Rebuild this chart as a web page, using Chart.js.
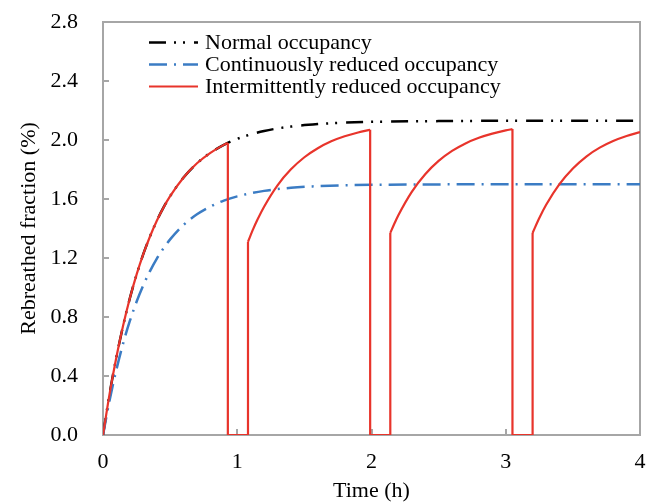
<!DOCTYPE html>
<html><head><meta charset="utf-8">
<script src="https://cdn.jsdelivr.net/npm/chart.js@4.4.1/dist/chart.umd.min.js"></script>
<style>html,body{margin:0;padding:0;background:#fff}canvas{display:block}</style>
</head><body>
<canvas id="c" width="648" height="504"></canvas>
<script>
// ---- data ----
const xTicks = [0, 1, 2, 3, 4];
const yTicks = [0.0, 0.4, 0.8, 1.2, 1.6, 2.0, 2.4, 2.8];
const seriesNames = ['Normal occupancy', 'Continuously reduced occupancy', 'Intermittently reduced occupancy'];

const timeH    = [0, 0.05, 0.1, 0.15, 0.2, 0.25, 0.3, 0.35, 0.4, 0.45, 0.5, 0.6, 0.7, 0.8, 0.9, 1.0, 1.2, 1.4, 1.6, 1.8, 2.0, 2.5, 3.0, 3.5, 4.0];
const normalY  = [0, 0.284, 0.529, 0.742, 0.927, 1.087, 1.226, 1.346, 1.451, 1.541, 1.619, 1.746, 1.842, 1.913, 1.967, 2.008, 2.061, 2.091, 2.108, 2.118, 2.123, 2.128, 2.13, 2.13, 2.13];
const reducedY = [0, 0.239, 0.444, 0.621, 0.773, 0.903, 1.015, 1.111, 1.194, 1.265, 1.326, 1.424, 1.496, 1.549, 1.589, 1.618, 1.655, 1.676, 1.687, 1.693, 1.696, 1.699, 1.70, 1.70, 1.70];

// intermittent occupancy: occupied periods (the gaps between them read as 0)
const redT1 = [0, 0.05, 0.1, 0.15, 0.2, 0.25, 0.3, 0.35, 0.4, 0.45, 0.5, 0.6, 0.7, 0.8, 0.9, 0.93];
const redY1 = [0, 0.284, 0.529, 0.742, 0.927, 1.087, 1.226, 1.346, 1.451, 1.541, 1.619, 1.746, 1.842, 1.913, 1.967, 1.980];
const redT2 = [1.08, 1.12, 1.15, 1.2, 1.3, 1.4, 1.5, 1.6, 1.7, 1.8, 1.9, 1.99];
const redY2 = [1.31, 1.399, 1.459, 1.548, 1.693, 1.801, 1.883, 1.944, 1.991, 2.025, 2.051, 2.069];
const redT3 = [2.14, 2.17, 2.2, 2.3, 2.4, 2.5, 2.6, 2.7, 2.8, 2.9, 3.0, 3.05];
const redY3 = [1.37, 1.432, 1.49, 1.649, 1.768, 1.858, 1.926, 1.977, 2.015, 2.043, 2.065, 2.074];
const redT4 = [3.2, 3.25, 3.3, 3.4, 3.5, 3.6, 3.7, 3.8, 3.9, 4.0];
const redY4 = [1.37, 1.471, 1.559, 1.701, 1.807, 1.888, 1.948, 1.993, 2.027, 2.053];

// ---- styling ----
const FONT = '"Liberation Serif","Times New Roman",serif';
const AXIS = '#a6a6a6';
const RED = '#e8342b', BLUE = '#3b7cc4', BLACK = '#000000';
const DASH_BLACK = [17, 8, 2, 7, 2, 9];
const DASH_BLUE = [18, 7, 2, 7];

function pts(t, y) { return t.map((v, i) => ({ x: v, y: y[i] })); }
const cyclesT = [redT1, redT2, redT3, redT4];
const cyclesY = [redY1, redY2, redY3, redY4];
const connectors = [];
for (let k = 0; k < cyclesT.length - 1; k++) {
  const tE = cyclesT[k][cyclesT[k].length - 1], yE = cyclesY[k][cyclesY[k].length - 1];
  const tS = cyclesT[k + 1][0], yS = cyclesY[k + 1][0];
  connectors.push({ x: tE, y: yE }, { x: tE, y: 0 }, { x: tS, y: 0 }, { x: tS, y: yS }, { x: tS, y: null });
}

const redBase = { borderColor: RED, borderWidth: 2.2, pointRadius: 0, fill: false, order: 0, borderJoinStyle: 'miter' };
const datasets = [];
cyclesT.forEach((t, k) => datasets.push(Object.assign({ label: seriesNames[2], data: pts(t, cyclesY[k]), cubicInterpolationMode: 'monotone' }, redBase)));
datasets.push(Object.assign({ label: seriesNames[2], data: connectors, tension: 0, spanGaps: false }, redBase));
datasets.push({ label: seriesNames[1], data: pts(timeH, reducedY), borderColor: BLUE, borderWidth: 2.5, borderDash: DASH_BLUE, pointRadius: 0, fill: false, cubicInterpolationMode: 'monotone', order: 1 });
datasets.push({ label: seriesNames[0], data: pts(timeH, normalY), borderColor: BLACK, borderWidth: 2.5, borderDash: DASH_BLACK, pointRadius: 0, fill: false, cubicInterpolationMode: 'monotone', order: 2 });

const framePlugin = {
  id: 'frame',
  beforeDatasetsDraw(chart) {
    const { ctx, chartArea: a, scales: { x, y } } = chart;
    ctx.save();
    ctx.strokeStyle = AXIS; ctx.lineWidth = 2;
    ctx.beginPath();
    ctx.moveTo(a.left, a.top); ctx.lineTo(a.right, a.top); ctx.lineTo(a.right, a.bottom);
    yTicks.forEach(v => { const py = Math.round(y.getPixelForValue(v)); ctx.moveTo(a.left, py); ctx.lineTo(a.left + 6, py); });
    xTicks.forEach(v => { const px = Math.round(x.getPixelForValue(v)); ctx.moveTo(px, a.bottom); ctx.lineTo(px, a.bottom - 6); });
    ctx.stroke();
    ctx.restore();
  }
};

const legendPlugin = {
  id: 'customLegend',
  afterDraw(chart) {
    const { ctx, chartArea: a } = chart;
    const rows = [
      { name: seriesNames[0], color: BLACK, dash: DASH_BLACK, w: 2.5 },
      { name: seriesNames[1], color: BLUE, dash: DASH_BLUE, w: 2.5 },
      { name: seriesNames[2], color: RED, dash: [], w: 2.2 }
    ];
    ctx.save();
    rows.forEach((r, i) => {
      const yy = a.top + 20.5 + i * 22;
      ctx.strokeStyle = r.color; ctx.lineWidth = r.w; ctx.setLineDash(r.dash);
      ctx.beginPath(); ctx.moveTo(149, yy); ctx.lineTo(198, yy); ctx.stroke();
      ctx.setLineDash([]);
      ctx.fillStyle = '#000'; ctx.font = '22px ' + FONT; ctx.textBaseline = 'alphabetic'; ctx.textAlign = 'left';
      ctx.fillText(r.name, 205, yy + 6);
    });
    ctx.restore();
  }
};

new Chart(document.getElementById('c'), {
  type: 'line',
  data: { datasets },
  options: {
    responsive: false, animation: false, devicePixelRatio: 1,
    layout: { padding: { left: 0, right: 8, top: 22, bottom: 0 } },
    plugins: { legend: { display: false }, tooltip: { enabled: false } },
    scales: {
      x: {
        type: 'linear', min: 0, max: 4,
        afterBuildTicks: s => { s.ticks = xTicks.map(v => ({ value: v })); },
        afterFit: s => { s.height = 69; s.paddingLeft = 0; s.paddingRight = 0; s.paddingTop = 0; s.paddingBottom = 0; },
        ticks: { padding: 14, color: '#000', font: { family: FONT, size: 22 }, maxRotation: 0, autoSkip: false },
        grid: { display: false, drawTicks: false },
        border: { display: true, color: AXIS, width: 2 },
        title: { display: true, text: 'Time (h)', color: '#000', font: { family: FONT, size: 22 }, padding: { top: 0, bottom: 0 } }
      },
      y: {
        type: 'linear', min: 0, max: 2.8,
        afterBuildTicks: s => { s.ticks = yTicks.map(v => ({ value: v })); },
        afterFit: s => { s.width = 103; s.paddingLeft = 0; s.paddingRight = 0; s.paddingTop = 0; s.paddingBottom = 0; },
        ticks: { padding: 25, color: '#000', font: { family: FONT, size: 22 }, callback: v => Number(v).toFixed(1) },
        grid: { display: false, drawTicks: false },
        border: { display: true, color: AXIS, width: 2 },
        title: { display: true, text: 'Rebreathed fraction (%)', color: '#000', font: { family: FONT, size: 22 }, padding: { top: 16, bottom: 0 } }
      }
    }
  },
  plugins: [framePlugin, legendPlugin]
});
</script>
</body></html>
